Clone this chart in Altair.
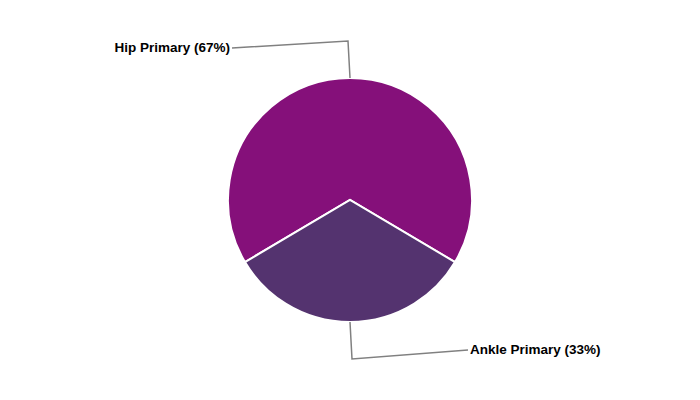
import math
import altair as alt
import pandas as pd

categories = ["Hip Primary", "Ankle Primary"]
shares = [67, 33]
colors = ["#85107A", "#54336F"]

W, H = 684, 384
cx, cy = 342, 192
R = 122
total = sum(shares)

# Hip slice centred at the top of the pie
start = 2 * math.pi - math.pi * shares[0] / total
theta_range = [start, start + 2 * math.pi]

pie_df = pd.DataFrame({
    "cat": categories,
    "share": shares,
    "ord": list(range(len(categories))),
    "label": [f"{c} ({round(100 * s / total)}%)" for c, s in zip(categories, shares)],
})

# leader lines derived from slice mid-angles
line_rows, text_rows = [], []
acc = 0.0
for i, (c, s) in enumerate(zip(categories, shares)):
    mid = start + 2 * math.pi * (acc + s / 2) / total
    acc += s
    side = -1 if i == 0 else 1
    ex, ey = cx + R * math.sin(mid), cy - R * math.cos(mid)
    bx, by = cx + (R + 37) * math.sin(mid) + 2 * side, cy - (R + 37) * math.cos(mid)
    tx, ty = bx + side * 116, by + (7 if i == 0 else -9)
    for k, (px, py) in enumerate([(ex, ey), (bx, by), (tx, ty)]):
        line_rows.append({"cat": c, "k": k, "px": px, "py": py})
    text_rows.append({"cat": c, "px": tx + side * 2, "py": ty,
                      "label": pie_df.loc[i, "label"], "align": "right" if side < 0 else "left"})

line_df = pd.DataFrame(line_rows)
text_df = pd.DataFrame(text_rows)

xs = alt.Scale(domain=[0, W], range=[0, W], nice=False, zero=False)
ys = alt.Scale(domain=[0, H], range=[0, H], nice=False, zero=False)

pie = alt.Chart(pie_df).mark_arc(outerRadius=R, stroke="white", strokeWidth=2).encode(
    theta=alt.Theta("share:Q", stack=True, scale=alt.Scale(range=theta_range)),
    color=alt.Color("cat:N", scale=alt.Scale(domain=categories, range=colors), legend=None),
    order=alt.Order("ord:Q"),
    x=alt.value(cx),
    y=alt.value(cy),
)

lines = alt.Chart(line_df).mark_line(color="#808080", strokeWidth=1.5).encode(
    x=alt.X("px:Q", scale=xs, axis=None),
    y=alt.Y("py:Q", scale=ys, axis=None),
    detail="cat:N",
    order="k:Q",
)

left = alt.Chart(text_df[text_df["align"] == "right"]).mark_text(
    align="right", baseline="middle", font="Liberation Sans", fontSize=13.5, fontWeight="bold", color="black"
).encode(x=alt.X("px:Q", scale=xs, axis=None), y=alt.Y("py:Q", scale=ys, axis=None), text="label:N")

right = alt.Chart(text_df[text_df["align"] == "left"]).mark_text(
    align="left", baseline="middle", font="Liberation Sans", fontSize=13.5, fontWeight="bold", color="black"
).encode(x=alt.X("px:Q", scale=xs, axis=None), y=alt.Y("py:Q", scale=ys, axis=None), text="label:N")

chart = alt.layer(pie, lines, left, right).resolve_scale(theta="independent").properties(
    width=W, height=H, padding=0, autosize=alt.AutoSizeParams(type="none")
).configure_view(stroke=None)

chart.save("out.html", embed_options={"renderer": "svg", "actions": False})
